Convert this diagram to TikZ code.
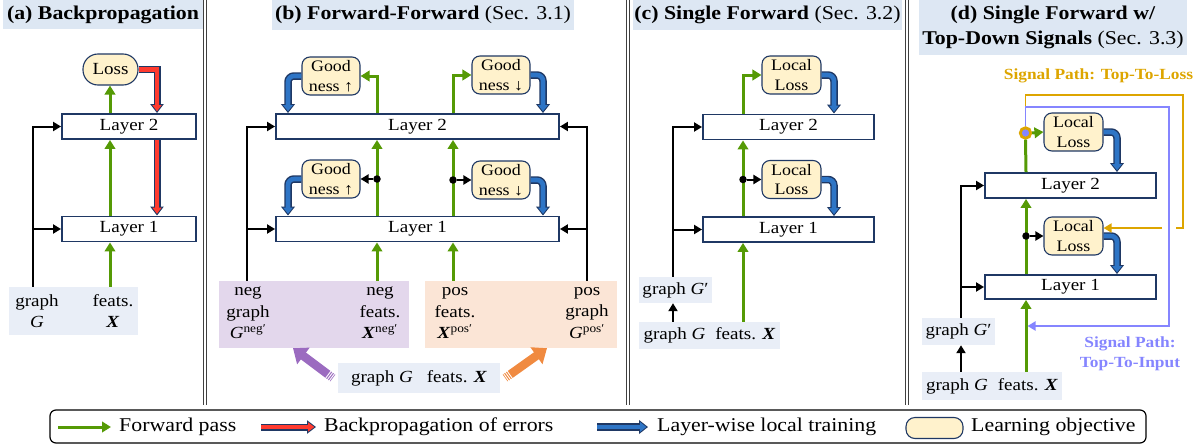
\documentclass[tikz,border=0pt]{standalone}
\usepackage{fontspec}
\setmainfont{Liberation Serif}[FakeStretch=1.12]
\usetikzlibrary{arrows.meta,calc}
\definecolor{navyc}{HTML}{1F3864}
\definecolor{greenc}{HTML}{559A05}
\definecolor{bluec}{HTML}{2E75C6}
\definecolor{redc}{HTML}{FF3B2F}
\definecolor{lossfill}{HTML}{FFF2CC}
\definecolor{titlebg}{HTML}{DDE7F3}
\definecolor{lblbg}{HTML}{E9EEF7}
\definecolor{negfill}{HTML}{E3D7EC}
\definecolor{posfill}{HTML}{FBE5D6}
\definecolor{purplec}{HTML}{9B6BC0}
\definecolor{orangec}{HTML}{F08A40}
\definecolor{goldc}{HTML}{DDA500}
\definecolor{lavc}{HTML}{8585FF}
\newcommand{\fzbody}{\fontsize{17}{21.5}\selectfont}
\newcommand{\fzobj}{\fontsize{16}{19.5}\selectfont}
\newcommand{\fztitle}{\fontsize{19.5}{25}\selectfont}
\newcommand{\fzleg}{\fontsize{19.5}{24}\selectfont}
\newcommand{\fzsig}{\fontsize{15.5}{20}\selectfont}
\newcommand{\bX}{\textbf{\textit{X}}}
\newcommand{\iG}{\textit{G}}
\begin{document}
\begin{tikzpicture}[x=1pt,y=-1pt,
  layer/.style={draw=navyc, line width=1.9pt, fill=white, inner sep=0pt, font=\fzbody},
  obj/.style={draw=navyc, line width=1.1pt, fill=lossfill, rounded corners=8pt, inner sep=0pt, align=center, font=\fzobj},
  lblbox/.style={fill=lblbg, inner sep=0pt, font=\fzbody},
  titlebox/.style={fill=titlebg, inner sep=0pt, font=\fztitle, align=center},
  txt/.style={inner sep=0pt, font=\fzbody, align=center},
  fwd/.style={draw=greenc, line width=3pt, -{Triangle[length=9pt,width=10.5pt]}},
  blk/.style={draw=black, line width=2pt, -{Triangle[length=8pt,width=9pt]}},
  dot/.style={circle, fill=black, inner sep=0pt, minimum size=7.5pt},
  bluearr/.style={rounded corners=6pt,
    preaction={draw=navyc, line width=7.5pt, shorten >=0pt, -{Triangle[length=9pt,width=13.5pt]}},
    draw=bluec, line width=4.6pt, shorten >=1.7pt, -{Triangle[length=6.3pt,width=9.5pt]}},
  redarr/.style={miter limit=10,
    preaction={draw=navyc, line width=7pt, shorten >=0pt, -{Triangle[length=9pt,width=13pt]}},
    draw=redc, line width=4.4pt, shorten >=1.7pt, -{Triangle[length=6.3pt,width=9pt]}},
  bigarr/.style={line width=8.5pt, -{Triangle[length=13pt,width=20pt]}},
  stripe/.style={draw=white, line width=0.9pt},
  sep/.style={draw=black!75, double=white, double distance=1.6pt, line width=0.8pt},
]
\useasboundingbox (0,0) rectangle (1201,444);
% separators
\foreach \sx in {205,628,907} \draw[sep] (\sx,0) -- (\sx,405);

% ================= (a)
\node[titlebox, minimum width=200pt, minimum height=29pt] (ta) at (103,14.5) {\textbf{(a) Backpropagation}};
\node[lblbox, minimum width=129pt, minimum height=48pt] (ina) at (73.5,311) {};
\node[txt] (ga) at (37,311) {graph\\\iG};
\node[txt] (fa) at (113,311) {feats.\\\bX};
\node[layer, minimum width=134pt, minimum height=25pt] (L2a) at (129,126.5) {Layer 2};
\node[layer, minimum width=134pt, minimum height=25pt] (L1a) at (129,229) {Layer 1};
\node[obj, font=\fzbody, rounded corners=15pt, minimum width=55pt, minimum height=31pt] (lossa) at (110.5,69.5) {Loss};
\coordinate (xa) at (110,0); \coordinate (ra) at (157,0); \coordinate (ka) at (33,0);
\draw[fwd] (ina.north -| xa) -- (L1a.south -| xa);
\draw[fwd] (L1a.north -| xa) -- (L2a.south -| xa);
\draw[fwd] (L2a.north -| xa) -- (lossa.south -| xa);
\draw[redarr] (lossa.east) -| (L2a.north -| ra);
\draw[redarr] (L2a.south -| ra) -- (L1a.north -| ra);
\draw[blk] (ina.north -| ka) |- (L2a.west);
\draw[blk] (L1a.west -| ka) -- (L1a.west);

% ================= (b)
\node[titlebox, minimum width=302pt, minimum height=30pt] (tb) at (423,15) {\textbf{(b) Forward-Forward} (Sec. 3.1)};
\node[layer, minimum width=283pt, minimum height=25pt] (L2b) at (417.5,126.5) {Layer 2};
\node[layer, minimum width=283pt, minimum height=25pt] (L1b) at (417.5,229) {Layer 1};
\node[obj, minimum width=58pt, minimum height=38pt] (g1) at (331,76) {Good\\ness ↑};
\node[obj, minimum width=58pt, minimum height=38pt] (g2) at (501,75) {Good\\ness ↓};
\node[obj, minimum width=58pt, minimum height=38pt] (g3) at (331,179) {Good\\ness ↑};
\node[obj, minimum width=58pt, minimum height=38pt] (g4) at (501,180) {Good\\ness ↓};
\node[fill=negfill, inner sep=0pt, minimum width=190pt, minimum height=67pt] (negb) at (314,314.5) {};
\node[fill=posfill, inner sep=0pt, minimum width=192pt, minimum height=67pt] (posb) at (521,314.5) {};
\node[txt] (ngt) at (248,313) {neg\\graph\\\iG\textsuperscript{neg′}};
\node[txt] (nft) at (380,313) {neg\\feats.\\\bX\textsuperscript{neg′}};
\node[txt] (pft) at (455,313) {pos\\feats.\\\bX\textsuperscript{pos′}};
\node[txt] (pgt) at (587,313) {pos\\graph\\\iG\textsuperscript{pos′}};
\node[lblbox, minimum width=162pt, minimum height=30pt] (inb) at (419,378) {graph \iG\hspace{14pt}feats. \bX};
\coordinate (xb1) at (377,0); \coordinate (xb2) at (453,0);
\coordinate (kbl) at (247,0); \coordinate (kbr) at (587,0);
\coordinate (bl) at (288,0); \coordinate (br) at (543,0);
\draw[fwd] (L2b.north -| xb1) |- (g1.east);
\draw[fwd] (L2b.north -| xb2) |- (g2.west);
\draw[fwd] (L1b.north -| xb1) -- (L2b.south -| xb1);
\draw[fwd] (L1b.north -| xb2) -- (L2b.south -| xb2);
\draw[fwd] (negb.north -| xb1) -- (L1b.south -| xb1);
\draw[fwd] (posb.north -| xb2) -- (L1b.south -| xb2);
\node[dot] (d3) at (g3.east -| xb1) {};
\node[dot] (d4) at (g4.west -| xb2) {};
\draw[blk] (d3) -- (g3.east);
\draw[blk] (d4) -- (g4.west);
\draw[bluearr] (g1.west) -| (L2b.north -| bl);
\draw[bluearr] (g2.east) -| (L2b.north -| br);
\draw[bluearr] (g3.west) -| (L1b.north -| bl);
\draw[bluearr] (g4.east) -| (L1b.north -| br);
\draw[blk] (negb.north -| kbl) |- (L2b.west);
\draw[blk] (L1b.west -| kbl) -- (L1b.west);
\draw[blk] (posb.north -| kbr) |- (L2b.east);
\draw[blk] (L1b.east -| kbr) -- (L1b.east);
\coordinate (pt) at ([xshift=-5pt]inb.west); \coordinate (ph) at ([xshift=-21pt]negb.south);
\coordinate (ot) at ([xshift=5pt]inb.east); \coordinate (oh) at ([xshift=26pt]posb.south);
\draw[bigarr, draw=purplec] (pt) -- (ph);
\draw[bigarr, draw=orangec] (ot) -- (oh);
\foreach \d in {1.2,3.4,5.6} {
  \draw[stripe] ($(pt)!\d pt!(ph)!5pt!90:(ph)$) -- ($(pt)!\d pt!(ph)!5pt!-90:(ph)$);
  \draw[stripe] ($(ot)!\d pt!(oh)!5pt!90:(oh)$) -- ($(ot)!\d pt!(oh)!5pt!-90:(oh)$);
}

% ================= (c)
\node[titlebox, minimum width=269pt, minimum height=30pt] (tc) at (767.5,15) {\textbf{(c) Single Forward} (Sec. 3.2)};
\node[layer, minimum width=171pt, minimum height=25pt] (L2c) at (788.5,127) {Layer 2};
\node[layer, minimum width=171pt, minimum height=25pt] (L1c) at (788.5,229.5) {Layer 1};
\node[obj, minimum width=59pt, minimum height=38pt] (lc1) at (791.5,75) {Local\\Loss};
\node[obj, minimum width=59pt, minimum height=38pt] (lc2) at (791.5,179.5) {Local\\Loss};
\node[lblbox, minimum width=73pt, minimum height=26pt] (Gpc) at (675.5,290) {graph \iG′};
\node[lblbox, minimum width=141pt, minimum height=27pt] (Gc) at (709.5,335.5) {graph \iG\hspace{10pt}feats. \bX};
\coordinate (xc) at (743,0); \coordinate (kc) at (673,0); \coordinate (bc) at (834,0);
\draw[fwd] (Gc.north -| xc) -- (L1c.south -| xc);
\draw[fwd] (L1c.north -| xc) -- (L2c.south -| xc);
\draw[fwd] (L2c.north -| xc) |- (lc1.west);
\node[dot] (dc) at (lc2.west -| xc) {};
\draw[blk] (dc) -- (lc2.west);
\draw[bluearr] (lc1.east) -| (L2c.north -| bc);
\draw[bluearr] (lc2.east) -| (L1c.north -| bc);
\draw[blk] (Gpc.north -| kc) |- (L2c.west);
\draw[blk] (L1c.west -| kc) -- (L1c.west);
\draw[blk] (Gc.north -| kc) -- (Gpc.south -| kc);

% ================= (d)
\node[titlebox, minimum width=268pt, minimum height=55pt] (td) at (1053,27.5) {\textbf{(d) Single Forward w/}\\\textbf{Top-Down Signals} (Sec. 3.3)};
\node[txt, font=\fzsig\bfseries, text=goldc] (sgl) at (1098.5,76) {Signal Path: Top-To-Loss};
\node[txt, font=\fzsig\bfseries, text=lavc] (sgi) at (1130,354) {Signal Path:\\Top-To-Input};
\node[layer, minimum width=171pt, minimum height=25pt] (L2d) at (1070.5,185.5) {Layer 2};
\node[layer, minimum width=171pt, minimum height=24pt] (L1d) at (1070.5,287) {Layer 1};
\node[obj, minimum width=59pt, minimum height=38pt] (ld1) at (1073.5,132) {Local\\Loss};
\node[obj, minimum width=59pt, minimum height=38pt] (ld2) at (1073.5,236) {Local\\Loss};
\node[lblbox, minimum width=73pt, minimum height=27pt] (Gpd) at (958.5,331.5) {graph \iG′};
\node[lblbox, minimum width=140pt, minimum height=28pt] (Gd) at (992,386) {graph \iG\hspace{10pt}feats. \bX};
\node[circle, draw=goldc, line width=2.8pt, fill=lavc, inner sep=0pt, minimum size=10.5pt] (sig) at (1025.5,133) {};
\coordinate (xd) at (1026,0); \coordinate (kd) at (961,0); \coordinate (bd) at (1117,0);
\coordinate (go) at (1183,95); \coordinate (gr) at (1176,228); \coordinate (gs) at (1162,228);
\coordinate (lo) at (1169,107); \coordinate (li) at (1169,326);
\draw[fwd] (Gd.north -| xd) -- (L1d.south -| xd);
\draw[fwd] (L1d.north -| xd) -- (L2d.south -| xd);
\draw[draw=greenc, line width=3pt] (L2d.north -| xd) -- (sig.south);
\draw[fwd] (sig.east) -- (ld1.west);
\node[dot] (dd) at (ld2.west -| xd) {};
\draw[blk] (dd) -- (ld2.west);
\draw[bluearr] (ld1.east) -| (L2d.north -| bd);
\draw[bluearr] (ld2.east) -| (L1d.north -| bd);
\draw[blk] (Gpd.north -| kd) |- (L2d.west);
\draw[blk] (L1d.west -| kd) -- (L1d.west);
\draw[blk] (Gd.north -| kd) -- (Gpd.south -| kd);
\draw[draw=goldc, line width=1.9pt] (sig.north) |- (go) |- (gr);
\draw[draw=goldc, line width=1.9pt, -{Triangle[length=8pt,width=9pt]}] (gs) -- ([yshift=8pt]ld2.east);
\draw[draw=lavc, line width=1.9pt, shorten >=1.5pt, -{Triangle[length=8pt,width=9pt]}] (sig.north) |- (lo) -- (li) -- (li -| xd);

% ================= legend
\node[draw=black, line width=1.2pt, rounded corners=6pt, minimum width=1096pt, minimum height=33pt, inner sep=0pt] (leg) at (598,426.5) {};
\coordinate (l1a) at (58,427); \coordinate (l1b) at (111,427);
\coordinate (l2a) at (261,427); \coordinate (l2b) at (316,427);
\coordinate (l3a) at (597,427); \coordinate (l3b) at (648,427);
\draw[fwd] (l1a) -- (l1b);
\draw[redarr] (l2a) -- (l2b);
\draw[bluearr] (l3a) -- (l3b);
\node[txt, font=\fzleg, anchor=west] (t1) at (119,427) {Forward pass};
\node[txt, font=\fzleg, anchor=west] (t2) at (324,427) {Backpropagation of errors};
\node[txt, font=\fzleg, anchor=west] (t3) at (657,427) {Layer-wise local training};
\node[obj, minimum width=57pt, minimum height=21pt, rounded corners=9pt] (lobj) at (934.5,428) {};
\node[txt, font=\fzleg, anchor=west] (t4) at (971,427) {Learning objective};
\end{tikzpicture}
\end{document}
